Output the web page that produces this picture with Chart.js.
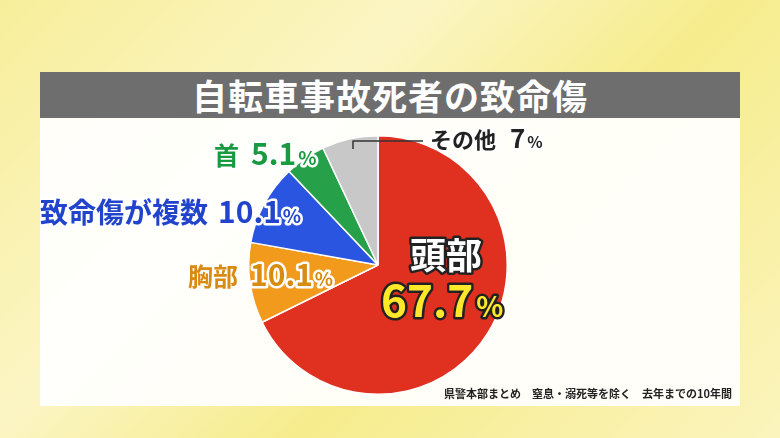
<!DOCTYPE html>
<html><head><meta charset="utf-8">
<script src="https://cdn.jsdelivr.net/npm/chart.js@4"></script>
<style>
html,body{margin:0;padding:0;width:780px;height:438px;overflow:hidden;}
body{background:linear-gradient(135deg,#f7ee9a 0%,#fbf5c4 35%,#f6ec8c 60%,#fbf4bd 100%);font-family:"Noto Sans CJK JP",sans-serif;position:relative;}
#title{position:absolute;left:40px;top:72px;width:700px;height:46px;background:#6e6e6e;color:#fff;font-weight:bold;font-size:35px;text-align:center;line-height:46px;letter-spacing:1px;}
#panel{position:absolute;left:40px;top:118px;width:700px;height:288px;background:rgba(255,255,255,0.93);}
#wrap{position:absolute;left:40px;top:118px;width:700px;height:288px;}
#note{position:absolute;right:48px;top:385px;font-size:11px;color:#222;font-weight:bold;}
</style></head><body>
<div id="title">自転車事故死者の致命傷</div>
<div id="panel"></div>
<div id="wrap"><canvas id="c" width="700" height="288"></canvas></div>
<div id="note">県警本部まとめ　窒息・溺死等を除く　去年までの10年間</div>
<script>
const categories=["頭部","胸部","致命傷が複数","首","その他"];
const values=[67.7,10.1,10.1,5.1,7];
const valueLabels=["67.7","10.1","10.1","5.1","7"];
const colors=["#e03020","#f29a1c","#2a55e0","#26a14a","#c8c8c8"];
const labelColors=["#ffffff","#d98a10","#2244cc","#1a9a40","#222222"];

function outlined(ctx,t,x,y,fill,stroke,w){ctx.lineJoin="round";ctx.lineWidth=w;ctx.strokeStyle=stroke;ctx.strokeText(t,x,y);ctx.fillStyle=fill;ctx.fillText(t,x,y);}
function labelPair(ctx,name,val,x,y,nameSize,valSize,nc,vc,stroke,sw,gap){
  ctx.textBaseline="alphabetic";ctx.textAlign="left";
  ctx.font="bold "+nameSize+"px 'Noto Sans CJK JP'";
  outlined(ctx,name,x,y,nc,stroke,sw);
  const nw=ctx.measureText(name).width;
  const vx=x+nw+gap;
  ctx.font="bold "+valSize+"px 'Noto Sans CJK JP'";
  outlined(ctx,val,vx,y,vc,stroke,sw);
  const vw=ctx.measureText(val).width;
  ctx.font="bold "+Math.round(valSize*0.62)+"px 'Noto Sans CJK JP'";
  outlined(ctx,"%",vx+vw+2,y,vc,stroke,sw);
}
const labelPlugin={id:"lbl",afterDatasetsDraw(chart){
  const ctx=chart.ctx;const arcs=chart.getDatasetMeta(0).data;
  const cx=arcs[0].x,cy=arcs[0].y;
  ctx.save();
  ctx.textAlign="left";ctx.font="bold 36px 'Noto Sans CJK JP'";
  outlined(ctx,categories[0],cx+32,cy+4,"#fff","#222",5);
  ctx.font="bold 44px 'Noto Sans CJK JP'";
  outlined(ctx,valueLabels[0],cx+3,cy+52,"#ffe82a","#222",5);
  const w=ctx.measureText(valueLabels[0]).width;
  ctx.font="bold 28px 'Noto Sans CJK JP'";
  outlined(ctx,"%",cx+3+w+3,cy+52,"#ffe82a","#222",5);
  labelPair(ctx,categories[1],valueLabels[1],cx-190,cy+21,25,30,labelColors[1],labelColors[1],"#fff",5,12);
  labelPair(ctx,categories[2],valueLabels[2],cx-338,cy-42,28,30,labelColors[2],labelColors[2],"#fff",5,10);
  labelPair(ctx,categories[3],valueLabels[3],cx-164,cy-100,25,30,labelColors[3],labelColors[3],"#fff",5,12);
  ctx.strokeStyle="#333";ctx.lineWidth=1.5;ctx.beginPath();ctx.moveTo(cx-25,cy-116);ctx.lineTo(cx-25,cy-124);ctx.lineTo(cx+45,cy-124);ctx.stroke();
  labelPair(ctx,categories[4],valueLabels[4],cx+52,cy-117,22,26,labelColors[4],labelColors[4],"#fff",5,14);
  ctx.restore();
}};
new Chart(document.getElementById("c"),{type:"pie",
 data:{labels:categories,datasets:[{data:values,backgroundColor:colors,borderColor:"#fff",borderWidth:1.5}]},
 options:{responsive:false,animation:false,layout:{padding:{left:208,right:232,top:16,bottom:10}},
  plugins:{legend:{display:false},tooltip:{enabled:false}}},
 plugins:[labelPlugin]});
</script></body></html>
